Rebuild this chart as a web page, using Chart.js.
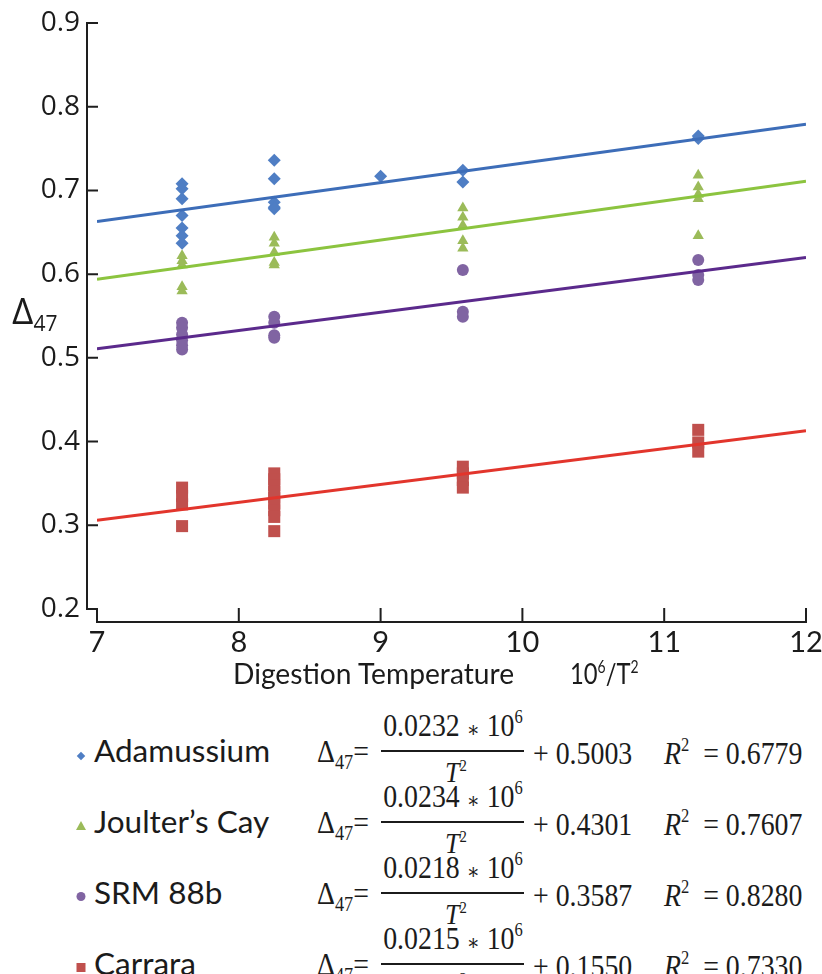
<!DOCTYPE html>
<html lang="en">
<head>
<meta charset="UTF-8">
<title>Δ47 vs digestion temperature</title>
<script src="https://cdn.jsdelivr.net/npm/chart.js@4.4.1/dist/chart.umd.min.js"></script>
<style>
  body { margin: 0; background: #fff; }
  #page { position: relative; width: 822px; height: 974px; overflow: hidden; font-family: Lato, sans-serif; color: #1b1b1b; }
  #plot { position: absolute; left: 0; top: 0; width: 822px; height: 700px; }
  .abs { position: absolute; white-space: nowrap; line-height: 1; }
  .eq { font-family: 'Liberation Serif', serif; font-size: 32px; }
  .eq sup { font-size: 19px; position: relative; top: -13px; vertical-align: baseline; line-height: 0; }
  .eq sub { font-size: 21px; position: relative; top: 7px; vertical-align: baseline; line-height: 0; }
  .eq .ast { font-family: 'DejaVu Serif', serif; font-size: 22px; position: relative; top: 1px; }
  .eq.den { font-size: 30px; }
  .eq.den sup { font-size: 17px; top: -11px; }
  .bar { position: absolute; height: 2px; background: #1b1b1b; }
  #xtitle { left: 233px; top: 672px; font-size: 29px; transform: translateY(-50%) scaleX(0.972); transform-origin: left center; }
  #xunit { left: 570px; top: 672px; font-size: 29px; transform: translateY(-50%) scaleX(0.82); transform-origin: left center; }
  #xunit sup { font-size: 17px; position: relative; top: -11px; vertical-align: baseline; line-height: 0; }
  #ytitle { left: 12px; top: 309px; font-family: 'Open Sans', sans-serif; font-size: 37px; transform: translateY(-50%); }
  #ytitle sub { font-size: 21px; position: relative; top: 7px; vertical-align: baseline; line-height: 0; }
</style>
</head>
<body>
<div id="page">
  <div id="plot"><canvas id="chart"></canvas></div>
  <div id="xtitle" class="abs">Digestion Temperature</div>
  <div id="xunit" class="abs">10<sup>6</sup>/T<sup>2</sup></div>
  <div id="ytitle" class="abs">Δ<sub>47</sub></div>
</div>
<script>
// measured points, x = 10^6/T^2, y = Δ47
const adamussiumX = [7.6, 7.6, 7.6, 7.6, 7.6, 7.6, 7.6, 8.25, 8.25, 8.25, 8.25, 8.25, 9.0, 9.58, 9.58, 11.24, 11.24];
const adamussiumY = [0.708, 0.702, 0.690, 0.670, 0.655, 0.646, 0.637, 0.736, 0.714, 0.686, 0.680, 0.678, 0.717, 0.724, 0.710, 0.765, 0.762];

const joulterX = [7.6, 7.6, 7.6, 7.6, 7.6, 8.25, 8.25, 8.25, 8.25, 8.25, 9.58, 9.58, 9.58, 9.58, 9.58, 11.24, 11.24, 11.24, 11.24, 11.24];
const joulterY = [0.622, 0.616, 0.611, 0.585, 0.580, 0.644, 0.637, 0.626, 0.614, 0.611, 0.679, 0.668, 0.658, 0.640, 0.631, 0.718, 0.704, 0.695, 0.690, 0.646];

const srmX = [7.6, 7.6, 7.6, 7.6, 7.6, 7.6, 8.25, 8.25, 8.25, 8.25, 9.58, 9.58, 9.58, 11.24, 11.24, 11.24];
const srmY = [0.542, 0.536, 0.528, 0.521, 0.515, 0.510, 0.549, 0.542, 0.527, 0.524, 0.605, 0.555, 0.549, 0.617, 0.599, 0.593];

const carraraX = [7.6, 7.6, 7.6, 7.6, 8.25, 8.25, 8.25, 8.25, 8.25, 8.25, 8.25, 8.25, 8.25, 9.58, 9.58, 9.58, 9.58, 11.24, 11.24, 11.24];
const carraraY = [0.345, 0.335, 0.325, 0.299, 0.362, 0.355, 0.348, 0.340, 0.333, 0.326, 0.318, 0.310, 0.293, 0.370, 0.362, 0.354, 0.345, 0.414, 0.399, 0.388];

// trend line ends at x = 7 and x = 12
const fitX = [7, 12];
const adamussiumFit = [0.663, 0.779];
const joulterFit = [0.594, 0.711];
const srmFit = [0.511, 0.620];
const carraraFit = [0.306, 0.413];

// legend text
const seriesNames = ['Adamussium', 'Joulter’s Cay', 'SRM 88b', 'Carrara'];
const fitSlopes = ['0.0232', '0.0234', '0.0218', '0.0215'];
const fitIntercepts = ['0.5003', '0.4301', '0.3587', '0.1550'];
const fitR2 = ['0.6779', '0.7607', '0.8280', '0.7330'];

const xTicks = [7, 8, 9, 10, 11, 12];
const yTicks = [0.2, 0.3, 0.4, 0.5, 0.6, 0.7, 0.8, 0.9];

const markerColors = ['#4f7ec4', '#9bbb59', '#8064a2', '#c0504d'];
const lineColors = ['#3d6db8', '#8cc43f', '#5b2a8c', '#e2352c'];

const pts = (xs, ys) => xs.map((x, i) => ({ x: x, y: ys[i] }));

// axes are drawn offset from the plot like the original: y axis left of x=7, x axis below 0.2
const axisFrame = {
  id: 'axisFrame',
  afterDraw(chart) {
    const ctx = chart.ctx, a = chart.chartArea;
    const sx = chart.scales.x, sy = chart.scales.y;
    const axX = a.left - 10, axY = a.bottom + 13;
    ctx.save();
    ctx.strokeStyle = '#1e1e1e';
    ctx.lineWidth = 2;
    ctx.lineCap = 'square';
    ctx.beginPath();
    ctx.moveTo(axX, a.top);
    ctx.lineTo(axX, a.bottom);
    sy.ticks.forEach(t => {
      const py = sy.getPixelForValue(t.value);
      ctx.moveTo(axX, py);
      ctx.lineTo(a.left, py);
    });
    ctx.moveTo(a.left, axY);
    ctx.lineTo(a.right, axY);
    sx.ticks.forEach(t => {
      const px = sx.getPixelForValue(t.value);
      ctx.moveTo(px, axY);
      ctx.lineTo(px, a.bottom);
    });
    ctx.stroke();
    ctx.restore();
  }
};

const fitLine = (ys, i) => ({
  data: pts(fitX, ys),
  showLine: true,
  borderColor: lineColors[i],
  borderWidth: 3,
  pointRadius: 0,
  order: 0
});

const scatterSet = (xs, ys, i, style, r) => ({
  label: seriesNames[i],
  data: pts(xs, ys),
  pointStyle: style,
  pointRadius: r,
  pointBackgroundColor: markerColors[i],
  pointBorderWidth: 0,
  order: 1
});

new Chart(document.getElementById('chart'), {
  type: 'scatter',
  data: {
    datasets: [
      fitLine(adamussiumFit, 0),
      fitLine(joulterFit, 1),
      fitLine(srmFit, 2),
      fitLine(carraraFit, 3),
      scatterSet(adamussiumX, adamussiumY, 0, 'rectRot', 6.5),
      scatterSet(joulterX, joulterY, 1, 'triangle', 6.5),
      scatterSet(srmX, srmY, 2, 'circle', 6),
      scatterSet(carraraX, carraraY, 3, 'rect', 8.5)
    ]
  },
  options: {
    responsive: true,
    maintainAspectRatio: false,
    animation: false,
    layout: { padding: { left: 40, right: 16, top: 23, bottom: 0 } },
    plugins: { legend: { display: false }, tooltip: { enabled: false } },
    scales: {
      x: {
        type: 'linear',
        min: 7,
        max: 12,
        afterFit: s => { s.height = 91; s.paddingLeft = 0; s.paddingRight = 0; },
        afterBuildTicks: s => { s.ticks = xTicks.map(v => ({ value: v })); },
        grid: { display: false, drawTicks: false },
        border: { display: false },
        ticks: {
          color: '#1b1b1b',
          padding: 16,
          font: { family: 'Lato', size: 29 },
          callback: v => String(v)
        }
      },
      y: {
        type: 'linear',
        min: 0.2,
        max: 0.9,
        afterFit: s => { s.width = 57; s.paddingTop = 0; s.paddingBottom = 0; },
        afterBuildTicks: s => { s.ticks = yTicks.map(v => ({ value: v })); },
        grid: { display: false, drawTicks: false },
        border: { display: false },
        ticks: {
          color: '#1b1b1b',
          padding: 17,
          font: { family: 'Open Sans', size: 28 },
          callback: v => v.toFixed(1)
        }
      }
    }
  },
  plugins: [axisFrame]
});

// legend rows with the fit equations
const page = document.getElementById('page');
const rowTop = 751, rowStep = 71;
const add = (html, cls, left, top, center) => {
  const el = document.createElement('div');
  el.className = 'abs ' + cls;
  el.innerHTML = html;
  el.style.left = left + 'px';
  el.style.top = top + 'px';
  const sq = cls.indexOf('eq') === 0 ? ' scaleX(0.87)' : '';
  el.style.transformOrigin = center ? '50% 50%' : '0 50%';
  el.style.transform = (center ? 'translate(-50%, -50%)' : 'translateY(-50%)') + sq;
  page.appendChild(el);
  return el;
};
const markerHtml = [
  '<span style="display:inline-block;width:6px;height:6px;background:' + markerColors[0] + ';transform:rotate(45deg)"></span>',
  '<span style="display:inline-block;width:0;height:0;border-left:5px solid transparent;border-right:5px solid transparent;border-bottom:9px solid ' + markerColors[1] + '"></span>',
  '<span style="display:inline-block;width:9px;height:9px;border-radius:50%;background:' + markerColors[2] + '"></span>',
  '<span style="display:inline-block;width:9px;height:9px;background:' + markerColors[3] + '"></span>'
];
seriesNames.forEach((name, i) => {
  const c = rowTop + i * rowStep;
  add(markerHtml[i], '', 81, c + 2, true);
  add(name, '', 94, c, false).style.fontSize = '31.5px';
  add('Δ<sub>47</sub>=', 'eq', 317, c, false);
  add(fitSlopes[i] + ' <span class="ast">∗</span> 10<sup>6</sup>', 'eq', 453, c - 26, true);
  const bar = document.createElement('div');
  bar.className = 'bar';
  bar.style.left = '381px';
  bar.style.width = '143px';
  bar.style.top = (c - 1) + 'px';
  page.appendChild(bar);
  add('<i>T</i><sup>2</sup>', 'eq den', 456, c + 21, true);
  add('+ ' + fitIntercepts[i], 'eq', 533, c + 2, false);
  add('<i>R</i><sup>2</sup>&nbsp; = ' + fitR2[i], 'eq', 664, c + 2, false);
});
</script>
</body>
</html>
